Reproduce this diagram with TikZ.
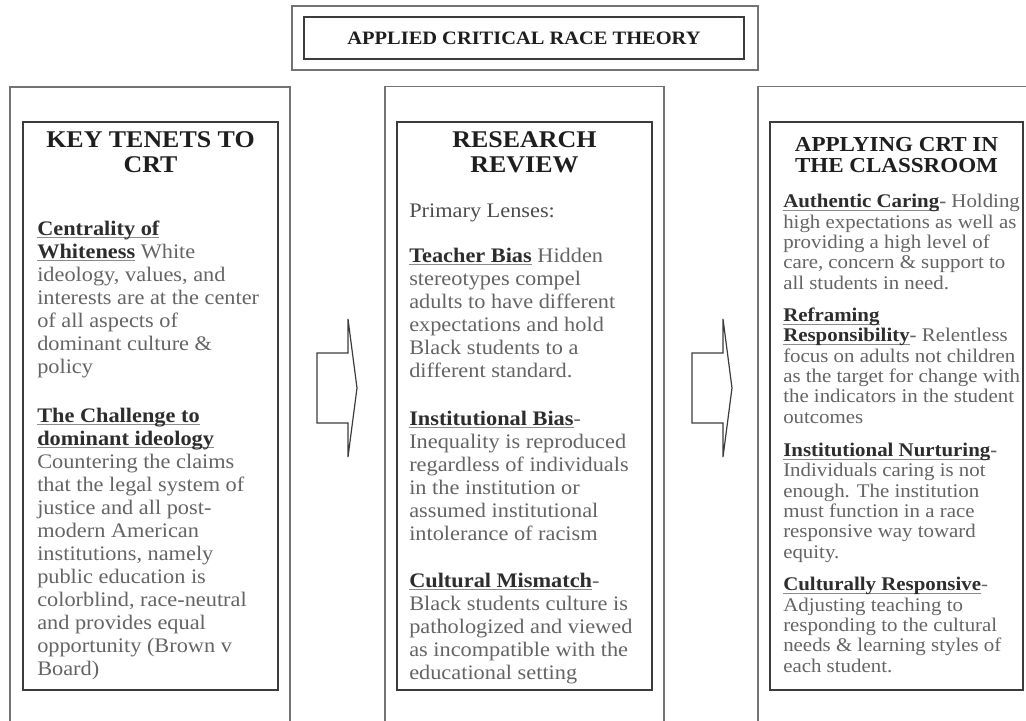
\documentclass[tikz,border=0pt]{standalone}
\usepackage{fontspec}
\setmainfont{Liberation Serif}[FakeStretch=1.08]
\definecolor{framegray}{RGB}{115,115,115}
\definecolor{boxgray}{RGB}{60,60,60}
\definecolor{bodygray}{RGB}{100,100,100}
\definecolor{termgray}{RGB}{45,45,45}
\definecolor{headgray}{RGB}{30,30,30}
\definecolor{rulegray}{RGB}{140,140,140}

% underlined bold lead-in of each paragraph (rule close to the baseline)
\newcommand\term[1]{\textbf{\color{termgray}\setbox0\hbox{#1}%
    \rlap{\color{rulegray}\rule[-2.4pt]{\wd0}{0.6pt}}\box0}}

\begin{document}
\begin{tikzpicture}[
    x=0.75pt, y=-0.75pt,
    outerframe/.style={
        draw=framegray,
        line width=1.2pt,
        inner sep=0pt
    },
    innerframe/.style={
        draw=boxgray,
        line width=1.1pt,
        inner sep=0pt
    },
    % multi-line nodes sit on the baseline of their last line
    heading/.style={
        anchor=base,
        align=center,
        inner sep=0pt,
        text=headgray,
        font=\bfseries\fontsize{18}{18.75}\selectfont
    },
    bodytext/.style={
        anchor=base west,
        align=left,
        inner sep=0pt,
        text=bodygray,
        font=\fontsize{15.5}{17.25}\selectfont
    },
    smalltext/.style={
        bodytext,
        font=\fontsize{14.5}{15.2}\selectfont
    },
    blockarrow/.style={
        draw=boxgray,
        line width=0.9pt,
        line join=miter
    }
    ]

    \useasboundingbox (0,0) rectangle (1026,721);
    \clip (0,0) rectangle (1026,721);

    % title
    \node[outerframe, minimum width=349.5pt, minimum height=48pt] (titleouter) at (525,38) {};
    \node[innerframe, minimum width=330pt, minimum height=31.5pt,
        text=headgray, font=\bfseries\fontsize{14.2}{16}\selectfont] (title) at (524,38)
        {APPLIED CRITICAL RACE THEORY};

    % three columns
    \node[outerframe, minimum width=210pt, minimum height=490pt] (keyouter) at (150,413.5) {};
    \node[innerframe, minimum width=191.25pt, minimum height=426pt] (keyinner) at (150.5,406) {};
    \node[outerframe, minimum width=209.25pt, minimum height=490pt] (revouter) at (524.5,413) {};
    \node[innerframe, minimum width=191.25pt, minimum height=426pt] (revinner) at (524.5,406) {};
    \node[outerframe, minimum width=210pt, minimum height=490pt] (classouter) at (898,413) {};
    \node[innerframe, minimum width=189.75pt, minimum height=426pt] (classinner) at (896.5,406) {};

    % block arrows between the columns
    \coordinate (gap1) at (337,388);
    \coordinate (gap2) at (712,388);
    \foreach \g in {gap1,gap2}
        \draw[blockarrow] (\g) ++(-20,-35) -- ++(31,0) -- ++(0,-34) -- ++(9,69)
            -- ++(-9,69) -- ++(0,-34) -- ++(-31,0) -- cycle;

    % key tenets
    \node[heading] (keyhead) at (150.5,172) {KEY TENETS TO\\CRT};
    \node[bodytext] (whiteness) at (37,373) {\term{Centrality of}\\
        \term{Whiteness} White\\
        ideology, values, and\\
        interests are at the center\\
        of all aspects of\\
        dominant culture \&\\
        policy};
    \node[bodytext] (challenge) at (37,675) {\term{The Challenge to}\\
        \term{dominant ideology}\\
        Countering the claims\\
        that the legal system of\\
        justice and all post-\\
        modern American\\
        institutions, namely\\
        public education is\\
        colorblind, race-neutral\\
        and provides equal\\
        opportunity (Brown v\\
        Board)};

    % research review
    \node[heading] (revhead) at (524.5,172) {RESEARCH\\REVIEW};
    \node[bodytext, text=termgray!85] (lenses) at (409,217) {Primary Lenses:};
    \node[bodytext] (teacher) at (409,377) {\term{Teacher Bias} Hidden\\
        stereotypes compel\\
        adults to have different\\
        expectations and hold\\
        Black students to a\\
        different standard.};
    \node[bodytext] (institutional) at (409,540) {\term{Institutional Bias}-\\
        Inequality is reproduced\\
        regardless of individuals\\
        in the institution or\\
        assumed institutional\\
        intolerance of racism};
    \node[bodytext] (mismatch) at (409,679) {\term{Cultural Mismatch}-\\
        Black students culture is\\
        pathologized and viewed\\
        as incompatible with the\\
        educational setting};

    % classroom
    \node[heading, font=\bfseries\fontsize{16}{15.5}\selectfont] (classhead) at (896.5,172)
        {APPLYING CRT IN\\THE CLASSROOM};
    \node[smalltext] (caring) at (783,289) {\term{Authentic Caring}\textbf{-} Holding\\
        high expectations as well as\\
        providing a high level of\\
        care, concern \& support to\\
        all students in need.};
    \node[smalltext] (reframing) at (783,423) {\term{Reframing}\\
        \term{Responsibility}\textbf{-} Relentless\\
        focus on adults not children\\
        as the target for change with\\
        the indicators in the student\\
        outcomes};
    \node[smalltext] (nurturing) at (783,558) {\term{Institutional Nurturing}\textbf{-}\\
        Individuals caring is not\\
        enough. The institution\\
        must function in a race\\
        responsive way toward\\
        equity.};
    \node[smalltext] (responsive) at (783,672) {\term{Culturally Responsive}-\\
        Adjusting teaching to\\
        responding to the cultural\\
        needs \& learning styles of\\
        each student.};

\end{tikzpicture}
\end{document}
